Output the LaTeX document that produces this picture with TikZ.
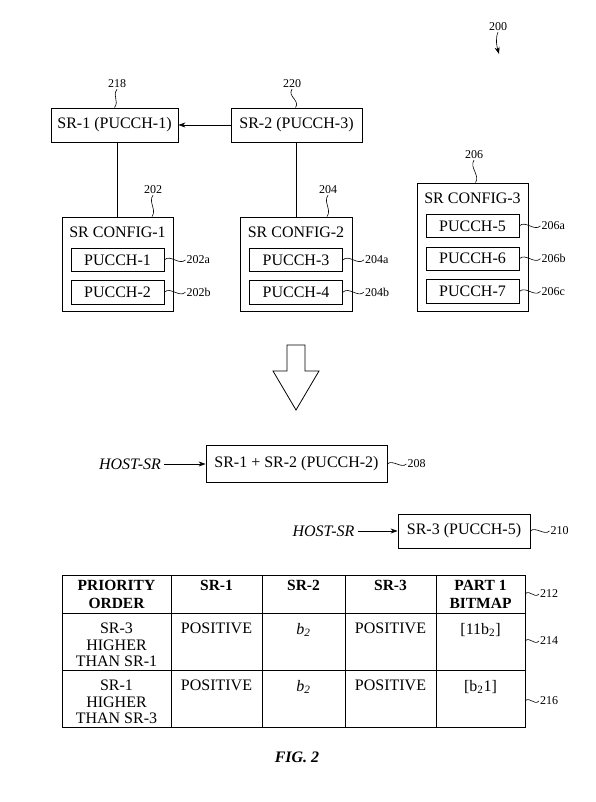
\documentclass[tikz,border=0pt]{standalone}
\usepackage{fontspec}
\setmainfont{Liberation Serif}
\usetikzlibrary{arrows.meta,positioning}

\tikzset{
  blk/.style={draw, line width=0.8pt, inner sep=0pt, font=\fontsize{16}{18}\selectfont},
  pbox/.style={blk, minimum width=93pt, minimum height=23.5pt},
  ttl/.style={inner sep=0pt, font=\fontsize{16}{18}\selectfont},
  host/.style={inner sep=3pt, font=\fontsize{16}{18}\selectfont\itshape},
  refnum/.style={inner sep=1pt, font=\fontsize{12}{14}\selectfont},
  lead/.style={line width=0.6pt},
  arr/.style={line width=0.7pt, -{Stealth[length=7pt,width=5pt]}},
  hd/.style={inner sep=0pt, anchor=north, align=center, font=\fontsize{15.5}{18}\selectfont\bfseries},
  tcell/.style={inner sep=0pt, anchor=north, align=center, font=\fontsize{16}{16.5}\selectfont},
}

\begin{document}
\begin{tikzpicture}[x=1pt, y=-1pt]
    \useasboundingbox (0,0) rectangle (595,802);

    \node[refnum] (n200) at (498,27) {200};
    \coordinate (p200) at (499,54);
    \draw[arr, line width=0.6pt] (n200.south) .. controls +(-3,7) and +(-2,-7) .. (p200);

    % peticiones SR de la fila superior
    \node[blk, minimum width=127pt, minimum height=34pt] (sr1) at (114.5,125) {SR-1 (PUCCH-1)};
    \node[blk, minimum width=131pt, minimum height=34pt] (sr2) at (296.5,125) {SR-2 (PUCCH-3)};
    \draw[arr] (sr2) -- (sr1);

    % configuraciones SR
    \node[blk, minimum width=111pt, minimum height=94pt] (cfg1) at (117.5,264) {};
    \node[ttl, below=10pt of cfg1.north] (cfg1t) {SR CONFIG-1};
    \node[pbox, below=10pt of cfg1t] (pu1) {PUCCH-1};
    \node[pbox, below=8pt of pu1] (pu2) {PUCCH-2};

    \node[blk, minimum width=112pt, minimum height=94pt] (cfg2) at (296,264) {};
    \node[ttl, below=10pt of cfg2.north] (cfg2t) {SR CONFIG-2};
    \node[pbox, below=10pt of cfg2t] (pu3) {PUCCH-3};
    \node[pbox, below=8pt of pu3] (pu4) {PUCCH-4};

    \node[blk, minimum width=111pt, minimum height=128pt] (cfg3) at (472.5,247) {};
    \node[ttl, below=10pt of cfg3.north] (cfg3t) {SR CONFIG-3};
    \node[pbox, below=10pt of cfg3t] (pu5) {PUCCH-5};
    \node[pbox, below=8.5pt of pu5] (pu6) {PUCCH-6};
    \node[pbox, below=8.5pt of pu6] (pu7) {PUCCH-7};

    \draw[lead] (cfg1.north) -- (cfg1.north |- sr1.south);
    \draw[lead] (cfg2.north) -- (cfg2.north |- sr2.south);

    % numeros de referencia
    \node[refnum] (n218) at (117,84) {218};
    \node[refnum] (n220) at (292,84) {220};
    \node[refnum] (n202) at (153,190) {202};
    \node[refnum] (n204) at (328,190) {204};
    \node[refnum] (n206) at (474,155) {206};
    \draw[lead] (n218.south) .. controls +(-5,7) and +(5,-7) .. (sr1.north);
    \draw[lead] (n220.south) .. controls +(-5,7) and +(5,-7) .. ([xshift=-1pt]sr2.north);
    \draw[lead] (n202.south) .. controls +(-5,7) and +(5,-7) .. ([xshift=34.5pt]cfg1.north);
    \draw[lead] (n204.south) .. controls +(-5,7) and +(5,-7) .. ([xshift=31pt]cfg2.north);
    \draw[lead] (n206.south) .. controls +(-5,7) and +(5,-7) .. ([xshift=3pt]cfg3.north);

    \foreach \b/\t in {pu1/202a, pu2/202b, pu3/204a, pu4/204b, pu5/206a, pu6/206b, pu7/206c} {
        \node[refnum, right=21pt of \b] (n\t) {\t};
        \draw[lead] (\b.east) .. controls +(6,-6) and +(-6,6) .. (n\t.west);
    }

    % flecha hueca
    \draw[line width=0.8pt] (287,345) -- (305,345) -- (305,371) -- (319,371)
        -- (296,410) -- (273,371) -- (287,371) -- cycle;

    % SR combinadas
    \node[blk, minimum width=181pt, minimum height=37pt] (hs1) at (296.5,464) {SR-1 + SR-2 (PUCCH-2)};
    \node[host] (host1) at (130,464) {HOST-SR};
    \draw[arr] (host1) -- (hs1);
    \node[refnum, right=19pt of hs1] (n208) {208};
    \draw[lead] (hs1.east) .. controls +(5,-5) and +(-5,5) .. (n208.west);

    \node[blk, minimum width=132pt, minimum height=34pt] (hs2) at (464,531) {SR-3 (PUCCH-5)};
    \node[host] (host2) at (323.5,531) {HOST-SR};
    \draw[arr] (host2) -- (hs2);
    \node[refnum, right=19pt of hs2] (n210) {210};
    \draw[lead] (hs2.east) .. controls +(5,-5) and +(-5,5) .. (n210.west);

    % tabla de prioridades
    \draw[line width=0.8pt] (62,575) rectangle (525,727);
    \foreach \x in {171,262,345,436} \draw[line width=0.8pt] (\x,575) -- (\x,727);
    \foreach \y in {613,670} \draw[line width=0.8pt] (62,\y) -- (525,\y);

    \node[hd] (h1) at (116.5,580) {PRIORITY\\ORDER};
    \node[hd] (h2) at (216.5,580) {SR-1};
    \node[hd] (h3) at (303.5,580) {SR-2};
    \node[hd] (h4) at (390.5,580) {SR-3};
    \node[hd] (h5) at (480.5,580) {PART 1\\BITMAP};

    \node[tcell] (r1a) at (116.5,623) {SR-3\\HIGHER\\THAN SR-1};
    \node[tcell] (r1b) at (216.5,623) {POSITIVE};
    \node[tcell] (r1c) at (303.5,623) {\textit{b\textsubscript{2}}};
    \node[tcell] (r1d) at (390.5,623) {POSITIVE};
    \node[tcell] (r1e) at (480.5,623) {[11b\textsubscript{2}]};

    \node[tcell] (r2a) at (116.5,680) {SR-1\\HIGHER\\THAN SR-3};
    \node[tcell] (r2b) at (216.5,680) {POSITIVE};
    \node[tcell] (r2c) at (303.5,680) {\textit{b\textsubscript{2}}};
    \node[tcell] (r2d) at (390.5,680) {POSITIVE};
    \node[tcell] (r2e) at (480.5,680) {[b\textsubscript{2}1]};

    \coordinate (e212) at (525,594);
    \coordinate (e214) at (525,641);
    \coordinate (e216) at (525,701);
    \node[refnum, right=14pt of e212] (n212) {212};
    \node[refnum, right=14pt of e214] (n214) {214};
    \node[refnum, right=14pt of e216] (n216) {216};
    \draw[lead] (e212) .. controls +(5,-5) and +(-5,5) .. (n212.west);
    \draw[lead] (e214) .. controls +(5,-5) and +(-5,5) .. (n214.west);
    \draw[lead] (e216) .. controls +(5,-5) and +(-5,5) .. (n216.west);

    \node[font=\fontsize{16}{18}\selectfont\bfseries\itshape] (fig) at (297,757) {FIG. 2};
\end{tikzpicture}
\end{document}
